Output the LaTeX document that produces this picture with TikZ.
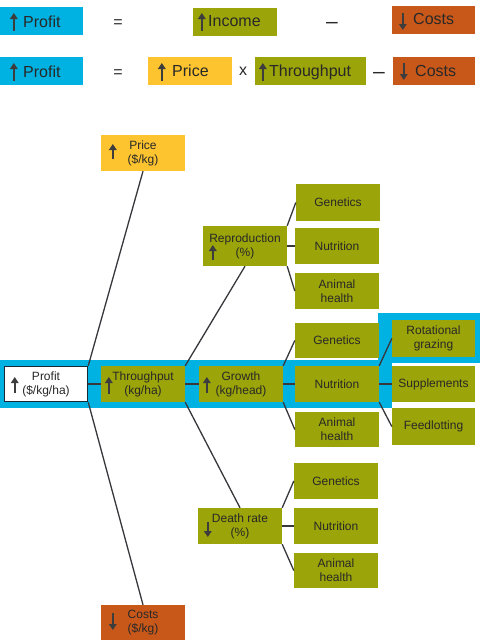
\documentclass[tikz,border=0pt]{standalone}
\usepackage{fontspec}
\setmainfont{Liberation Sans}
\usetikzlibrary{arrows.meta,calc}
\definecolor{cyanB}{RGB}{0,178,226}
\definecolor{olive}{RGB}{155,164,8}
\definecolor{gold}{RGB}{253,196,47}
\definecolor{rust}{RGB}{200,88,26}
\definecolor{ink}{RGB}{40,40,40}
\definecolor{linec}{RGB}{55,55,60}
\definecolor{navy}{RGB}{25,40,55}
\begin{document}
\begin{tikzpicture}[x=1pt,y=-1pt,
  topbox/.style={rectangle,inner sep=0pt,minimum height=28pt},
  toptext/.style={inner sep=0pt,anchor=base west,font=\fontsize{16}{18}\selectfont,text=ink},
  sym/.style={inner sep=0pt,font=\fontsize{16}{18}\selectfont,text=ink},
  dashsym/.style={inner sep=0pt,font=\fontsize{21}{22}\selectfont,text=ink},
  tbox/.style={rectangle,inner sep=0pt,minimum width=84pt,minimum height=36pt,fill=olive,
    align=center,font=\fontsize{12}{14}\selectfont,text=ink},
  arr/.style={draw=ink!90,line width=2pt,-{Triangle[length=6pt,width=7.5pt]}},
  conn/.style={draw=linec,line width=1.3pt}]
\useasboundingbox (0,0) rectangle (480,640);
\fill[white] (0,0) rectangle (480,640);

% ---- top equations ----
\node[topbox,fill=cyanB,minimum width=83pt] (p1) at (41.5,21) {};
\node[topbox,fill=olive,minimum width=84pt] (inc) at (235,21.5) {};
\node[topbox,fill=rust,minimum width=83pt] (c1) at (433.5,19.5) {};
\node[toptext] (p1t) at (23,27) {Profit};
\node[toptext] (inct) at (208,26) {Income};
\node[toptext] (c1t) at (413,24) {Costs};
\node[sym] (eq1) at (118,24) {=};
\node[dashsym] (mi1) at (332,25) {–};
\draw[arr] ($(p1.west)+(14,10)$) -- ++(0,-18);
\draw[arr] ($(inc.west)+(9,9.5)$) -- ++(0,-18);
\draw[arr] ($(c1.west)+(11,-6.5)$) -- ++(0,17);

\node[topbox,fill=cyanB,minimum width=83pt] (p2) at (41.5,71) {};
\node[topbox,fill=gold,minimum width=84pt] (pr2) at (190,71) {};
\node[topbox,fill=olive,minimum width=111pt] (th2) at (310.5,71) {};
\node[topbox,fill=rust,minimum width=82pt] (c2) at (434,71) {};
\node[toptext] (p2t) at (23,77) {Profit};
\node[toptext] (pr2t) at (172,76) {Price};
\node[toptext] (th2t) at (269,76) {Throughput};
\node[toptext] (c2t) at (415,76) {Costs};
\node[sym] (eq2) at (118,74) {=};
\node[sym] (x2) at (243,71) {x};
\node[dashsym] (mi2) at (379,75) {–};
\draw[arr] ($(p2.west)+(14,10)$) -- ++(0,-18);
\draw[arr] ($(pr2.west)+(14,10)$) -- ++(0,-18);
\draw[arr] ($(th2.west)+(8,10)$) -- ++(0,-18);
\draw[arr] ($(c2.west)+(11,-8)$) -- ++(0,17);

% ---- highlight band ----
\fill[cyanB] (0,360) rectangle (392,408);
\fill[cyanB] (378,313) rectangle (480,363);

% ---- tree nodes ----
\node[tbox,fill=gold] (price) at (143,153) {Price\\(\$/kg)};
\node[tbox,fill=rust] (costs) at (143,623) {Costs\\(\$/kg)};
\node[tbox,fill=white,draw=navy,line width=1.5pt,minimum width=83pt,minimum height=35pt] (profit) at (46,384) {Profit\\(\$/kg/ha)};
\node[tbox] (thru) at (143,384) {Throughput\\(kg/ha)};
\node[tbox] (growth) at (241,384) {Growth\\(kg/head)};
\node[tbox,minimum height=40pt] (repro) at (245,246) {Reproduction\\(\%)};
\node[tbox] (death) at (240,526) {Death rate\\(\%)};

\node[tbox,minimum height=37pt] (rgen) at (338,202.5) {Genetics};
\node[tbox] (rnut) at (337,246) {Nutrition};
\node[tbox] (rah) at (337,291) {Animal\\health};
\node[tbox,minimum height=35pt] (ggen) at (337,340.5) {Genetics};
\node[tbox] (gnut) at (337,384) {Nutrition};
\node[tbox,minimum height=35pt] (gah) at (337,429.5) {Animal\\health};
\node[tbox,minimum width=83pt,minimum height=37pt] (rot) at (433.5,338.5) {Rotational\\grazing};
\node[tbox,minimum width=83pt] (sup) at (433.5,384) {Supplements};
\node[tbox,minimum width=83pt,minimum height=37pt] (feed) at (433.5,426.5) {Feedlotting};
\node[tbox] (dgen) at (336,481) {Genetics};
\node[tbox] (dnut) at (336,526) {Nutrition};
\node[tbox,minimum height=35pt] (dah) at (336,570.5) {Animal\\health};

% ---- connectors ----
\draw[conn] (price.south) -- (profit.north east);
\draw[conn] (profit.south east) -- (costs.north);
\draw[conn] (profit.east) -- (thru.west);
\draw[conn] (thru.east) -- (growth.west);
\draw[conn] (thru.north east) -- (repro.south);
\draw[conn] (thru.south east) -- (death.north);
\draw[conn] (repro.north east) -- (rgen.west);
\draw[conn] (repro.east) -- (rnut.west);
\draw[conn] (repro.south east) -- (rah.west);
\draw[conn] (growth.north east) -- (ggen.west);
\draw[conn] (growth.east) -- (gnut.west);
\draw[conn] (growth.south east) -- (gah.west);
\draw[conn] (gnut.north east) -- (rot.west);
\draw[conn] (gnut.east) -- (sup.west);
\draw[conn] (gnut.south east) -- (feed.west);
\draw[conn] (death.north east) -- (dgen.west);
\draw[conn] (death.east) -- (dnut.west);
\draw[conn] (death.south east) -- (dah.west);

% ---- arrows in tree ----
\draw[arr] ($(profit.west)+(11,9)$) -- ++(0,-16);
\draw[arr] ($(thru.west)+(8,10)$) -- ++(0,-17);
\draw[arr] ($(growth.west)+(8,9)$) -- ++(0,-16);
\draw[arr] ($(price.west)+(12,6)$) -- ++(0,-15);
\draw[arr] ($(repro.west)+(10,14)$) -- ++(0,-15);
\draw[arr] ($(death.west)+(10,-4)$) -- ++(0,15);
\draw[arr] ($(costs.west)+(12,-10)$) -- ++(0,17);
\end{tikzpicture}
\end{document}
